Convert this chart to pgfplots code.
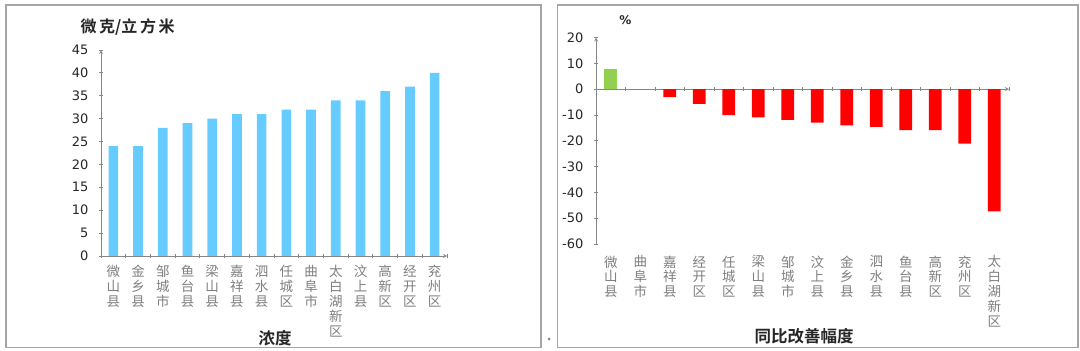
\documentclass[border=0pt]{standalone}
\usepackage{fontspec}
\usepackage{pgfplots}
\pgfplotsset{compat=1.18}
\setmainfont{DejaVu Sans}
\newfontfamily\cjk{Noto Sans CJK SC}[BoldFont={Noto Sans CJK SC Bold}]
\definecolor{lblue}{HTML}{66CCFF}
\definecolor{lgreen}{HTML}{92D050}
\definecolor{axgray}{HTML}{878787}
\definecolor{framegray}{HTML}{A6A6A6}
\definecolor{labgray}{HTML}{7F7F7F}
\begin{document}
\begin{tikzpicture}[x=1pt,y=1pt]
\path (0,0) rectangle (1080,351);
\draw[framegray, line width=1.3pt] (6,3.5) rectangle (541,346);
\draw[framegray, line width=1.3pt] (557.7,3.5) rectangle (1078,346);
\fill[gray] (549,12) circle (1.5pt);
\pgfplotsset{
  common/.style={
    scale only axis,
    xmin=-0.5, xmax=13.5,
    axis line style={-, draw=axgray, line width=0.8pt},
    tick align=outside,
    tick style={draw=axgray, line width=0.8pt},
    major tick length=4pt,
    minor tick length=4pt,
    xtick={0,...,13},
    minor xtick={-0.5,0.5,...,13.5},
    x tick style={draw=none},
    minor x tick style={draw=axgray, line width=0.8pt},
    /pgf/number format/assume math mode=true,
    yticklabel style={font=\fontsize{13}{13}\selectfont, text=black!85, xshift=-7pt},
    xticklabel style={align=center, font=\cjk\fontsize{13.5}{14.8}\selectfont, text=labgray, anchor=north},
    ybar, bar width=9.7pt, bar shift=0pt,
    enlargelimits=false,
    clip=false,
  }
}
\begin{axis}[common,
  at={(101pt,95pt)}, anchor=south west,
  width=346pt, height=206pt,
  ymin=0, ymax=45, ytick={0,5,...,45},
  axis x line=bottom, axis y line=left,
  xticklabel shift={4pt},
  xticklabels={{微\\山\\县},{金\\乡\\县},{邹\\城\\市},{鱼\\台\\县},{梁\\山\\县},{嘉\\祥\\县},{泗\\水\\县},{任\\城\\区},{曲\\阜\\市},{太\\白\\湖\\新\\区},{汶\\上\\县},{高\\新\\区},{经\\开\\区},{兖\\州\\区}},
]
\addplot[fill=lblue, draw=none] coordinates {
(0,24) (1,24) (2,28) (3,29) (4,30) (5,31) (6,31) (7,32) (8,32) (9,34) (10,34) (11,36) (12,37) (13,40)};
\end{axis}
\begin{axis}[common,
  at={(596pt,107pt)}, anchor=south west,
  width=413pt, height=206.5pt,
  ymin=-60, ymax=20, ytick={-60,-50,...,20},
  axis x line=middle, axis y line=left,
  hide obscured y ticks=false,
  xticklabel shift={161pt},
  bar width=12.8pt,
  xticklabels={{微\\山\\县},{曲\\阜\\市},{嘉\\祥\\县},{经\\开\\区},{任\\城\\区},{梁\\山\\县},{邹\\城\\市},{汶\\上\\县},{金\\乡\\县},{泗\\水\\县},{鱼\\台\\县},{高\\新\\区},{兖\\州\\区},{太\\白\\湖\\新\\区}},
]
\addplot[fill=lgreen, draw=none] coordinates {(0,7.7)};
\addplot[fill=red, draw=none] coordinates {
(1,0) (2,-3.1) (3,-5.7) (4,-10.1) (5,-10.9) (6,-11.9) (7,-13) (8,-14) (9,-14.6) (10,-15.9) (11,-15.9) (12,-21.1) (13,-47.4)};
\end{axis}
\node[anchor=west, font=\cjk\bfseries\fontsize{16}{16}\selectfont, text=black!85] at (77,324) {微\,克/立\,方\,米};
\node[font=\cjk\bfseries\fontsize{16.5}{16.5}\selectfont, text=black!85] at (275,13) {浓度};
\node[font=\cjk\bfseries\fontsize{16.5}{16.5}\selectfont, text=black!85] at (804,15) {同比改善幅度};
\node[font=\bfseries\fontsize{12}{12}\selectfont, text=black!85] at (625.5,331) {\%};
\end{tikzpicture}
\end{document}
